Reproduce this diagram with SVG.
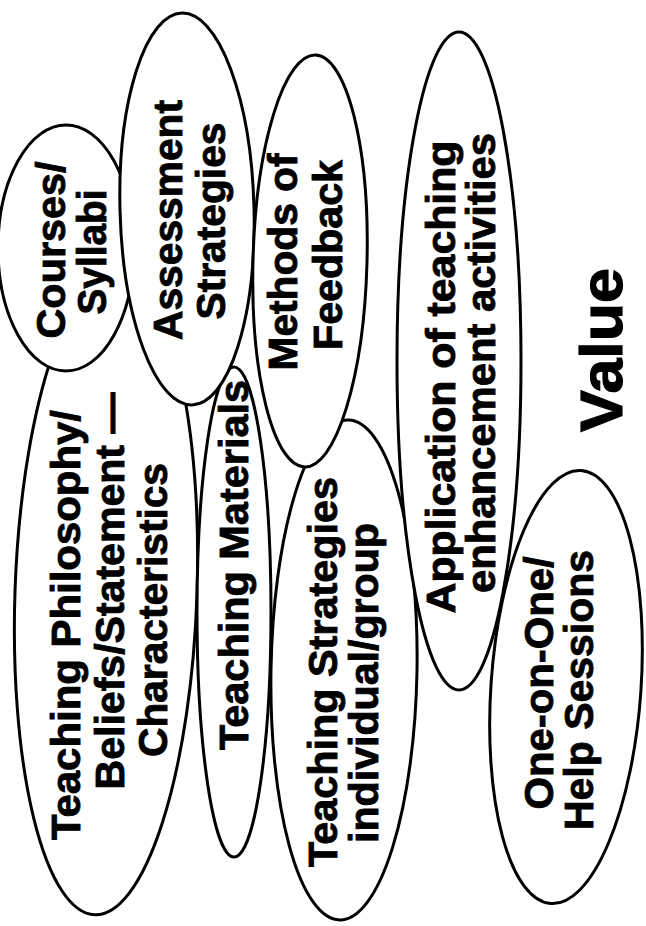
<svg xmlns="http://www.w3.org/2000/svg" width="646" height="926" viewBox="0 0 646 926">
<style>
.bubble{fill:#fff;stroke:#000;stroke-width:3}
.t{font-family:"Liberation Sans",Arial,sans-serif;font-weight:bold;font-size:41px;fill:#000;stroke:#000;stroke-width:0.9;text-anchor:middle}
.big{font-size:60px;stroke-width:1.2}
</style>
<rect width="646" height="926" fill="#fff"/>
<g id="connectors"/>
<g id="philosophy">
<ellipse class="bubble" cx="106" cy="593" rx="91" ry="322" transform="rotate(2 106 593)"/>
<text class="t" transform="translate(80 625) rotate(-90)" textLength="430" lengthAdjust="spacingAndGlyphs">Teaching Philosophy/</text>
<text class="t" transform="translate(124 591) rotate(-90)" textLength="397" lengthAdjust="spacingAndGlyphs">Beliefs/Statement —</text>
<text class="t" transform="translate(167 610) rotate(-90)" textLength="294" lengthAdjust="spacingAndGlyphs">Characteristics</text>
</g>
<g id="materials">
<ellipse class="bubble" cx="234" cy="612" rx="37" ry="245"/>
<text class="t" transform="translate(248 565) rotate(-90)" textLength="370" lengthAdjust="spacingAndGlyphs">Teaching Materials</text>
</g>
<g id="strategies">
<ellipse class="bubble" cx="344" cy="670" rx="73" ry="250" transform="rotate(1 344 670)"/>
<text class="t" transform="translate(337 672) rotate(-90)" textLength="390" lengthAdjust="spacingAndGlyphs">Teaching Strategies</text>
<text class="t" transform="translate(378 683) rotate(-90)" textLength="320" lengthAdjust="spacingAndGlyphs">individual/group</text>
</g>
<g id="courses">
<ellipse class="bubble" cx="66" cy="248" rx="68" ry="123"/>
<text class="t" transform="translate(65 250) rotate(-90)" textLength="177" lengthAdjust="spacingAndGlyphs">Courses/</text>
<text class="t" transform="translate(106 252) rotate(-90)" textLength="125" lengthAdjust="spacingAndGlyphs">Syllabi</text>
</g>
<g id="assessment">
<ellipse class="bubble" cx="187" cy="209" rx="67" ry="196" transform="rotate(-1.5 187 209)"/>
<text class="t" transform="translate(182 220) rotate(-90)" textLength="240" lengthAdjust="spacingAndGlyphs">Assessment</text>
<text class="t" transform="translate(225 221) rotate(-90)" textLength="197" lengthAdjust="spacingAndGlyphs">Strategies</text>
</g>
<g id="methods">
<ellipse class="bubble" cx="310" cy="261" rx="57" ry="206" transform="rotate(1.5 310 261)"/>
<text class="t" transform="translate(297 262) rotate(-90)" textLength="217" lengthAdjust="spacingAndGlyphs">Methods of</text>
<text class="t" transform="translate(342 255) rotate(-90)" textLength="190" lengthAdjust="spacingAndGlyphs">Feedback</text>
</g>
<g id="application">
<ellipse class="bubble" cx="459" cy="361" rx="62" ry="329"/>
<text class="t" transform="translate(455 377) rotate(-90)" textLength="473" lengthAdjust="spacingAndGlyphs">Application of teaching</text>
<text class="t" transform="translate(495 363) rotate(-90)" textLength="460" lengthAdjust="spacingAndGlyphs">enhancement activities</text>
</g>
<g id="oneonone">
<ellipse class="bubble" cx="566" cy="687" rx="75" ry="217" transform="rotate(4 566 687)"/>
<text class="t" transform="translate(553 683) rotate(-90)" textLength="253" lengthAdjust="spacingAndGlyphs">One-on-One/</text>
<text class="t" transform="translate(593 690) rotate(-90)" textLength="280" lengthAdjust="spacingAndGlyphs">Help Sessions</text>
</g>
<g id="value">
<text class="t big" transform="translate(622 350) rotate(-90)" textLength="164" lengthAdjust="spacingAndGlyphs">Value</text>
</g>
</svg>
